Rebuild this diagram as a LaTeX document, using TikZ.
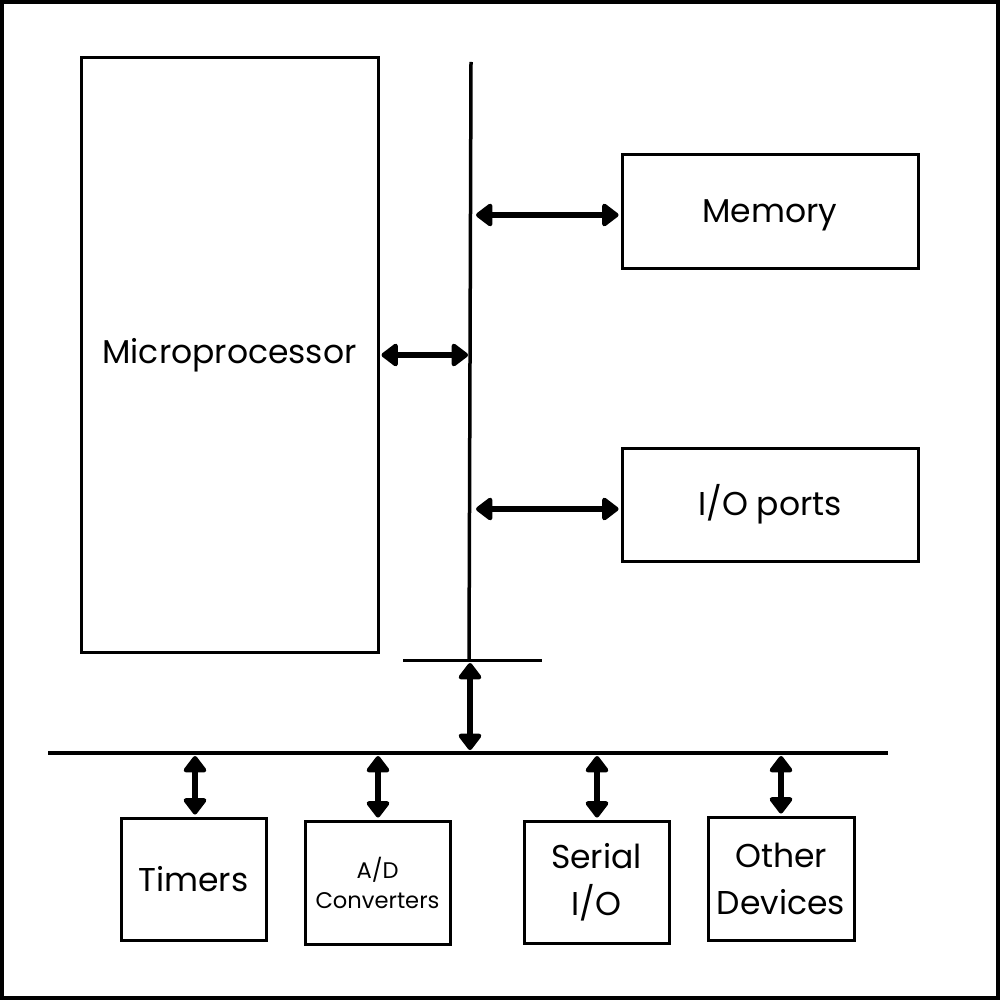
\documentclass[tikz,border=0pt]{standalone}
\usepackage{fontspec}
\setmainfont{Poppins}
\usepackage{tikz}
\usetikzlibrary{arrows.meta}
\newcommand*{\lw}{3}

\begin{document}
\begin{tikzpicture}[
   x=1pt, y=-1pt,
   block/.style={rectangle, draw=black, fill=white, line width=\lw, text=black,
                 inner sep=2, align=center, font=\fontsize{33}{47}\selectfont},
   smallblock/.style={block, font=\fontsize{22.6}{30}\selectfont},
   busline/.style={black, line width=4},
   biarrow/.style={{Triangle[round, length=18pt, width=26pt]}-{Triangle[round, length=18pt, width=26pt]},
                   black, line width=6}
  ]

  % frame
  \useasboundingbox (0,0) rectangle (1000,1000);
  \draw[black, line width=4] (2,2) rectangle (998,998);

  \node (micro) at (229.5,355) [block, minimum width=297, minimum height=594] {Microprocessor};
  \node (mem) at (770,211.5) [block, minimum width=296, minimum height=113, text depth=0pt] {Memory};
  \node (io) at (770,504.5) [block, minimum width=296, minimum height=113] {I/O ports};

  \node (tim) at (193.5,879) [block, minimum width=145, minimum height=122] {Timers};
  \node (adc) at (377.5,882.5) [smallblock, minimum width=145, minimum height=123] {A/D\\Converters};
  \node (ser) at (596.5,882) [block, minimum width=145, minimum height=122] {Serial\\I/O};
  \node (oth) at (781,878.5) [block, minimum width=146, minimum height=123] {Other\\Devices};

  % buses
  \coordinate (bustop) at (471,62);
  \coordinate (busbot) at (469,660);
  \coordinate (teeL) at (403,660);
  \coordinate (teeR) at (542,660);
  \coordinate (lbusL) at (48,753);
  \coordinate (lbusR) at (888,753);

  \draw[black, line width=3.5] (bustop) -- (busbot);
  \draw[busline, line width=3] (teeL) -- (teeR);
  \draw[busline] (lbusL) -- (lbusR);

  \coordinate (bmic) at (468,355);
  \draw[biarrow, shorten <=2pt] (micro.east) -- (bmic);

  \foreach \N/\Y in {mem/215, io/509} {
    \coordinate (b\N) at (476,\Y);
    \draw[biarrow, shorten >=2pt] (b\N) -- (\N.west |- b\N);
  }

  \coordinate (tee) at (470,663);
  \coordinate (lbus) at (470,750);
  \draw[biarrow] (tee) -- (lbus);

  \foreach \N/\X in {tim/195, adc/378, ser/597, oth/781} {
    \coordinate (b\N) at (\X,756);
    \draw[biarrow, shorten >=2pt] (b\N) -- (\N.north -| b\N);
  }

\end{tikzpicture}
\end{document}
